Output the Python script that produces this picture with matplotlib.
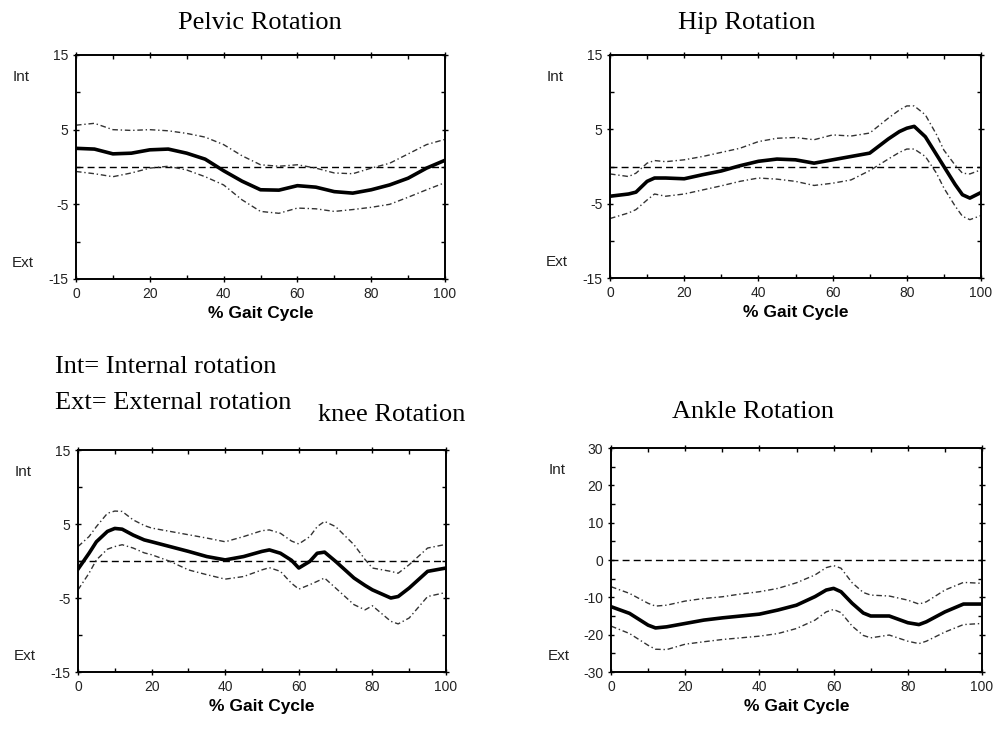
import matplotlib
matplotlib.use("Agg")
import matplotlib.pyplot as plt
from matplotlib.ticker import MultipleLocator

plt.rcParams["axes.unicode_minus"] = False

# ---- data (degrees vs % gait cycle) ----
pelvic_x = [0, 5, 10, 15, 20, 25, 30, 35, 40, 45, 50, 55, 60, 65, 70, 75, 80, 85, 90, 95, 100]
pelvic_mean = [2.5, 2.4, 1.76, 1.85, 2.3, 2.4, 1.85, 1.05, -0.5, -1.9, -3.05, -3.1, -2.5, -2.7,
               -3.3, -3.5, -3.05, -2.4, -1.5, -0.15, 0.9]
pelvic_hi = [5.6, 5.85, 5.0, 4.9, 5.0, 4.85, 4.5, 4.0, 3.0, 1.5, 0.3, 0.1, 0.3, -0.15,
             -0.8, -0.9, -0.15, 0.5, 1.75, 3.0, 3.7]
pelvic_lo = [-0.6, -0.9, -1.3, -0.8, -0.15, 0.1, -0.4, -1.3, -2.4, -4.4, -5.95, -6.2, -5.5, -5.6,
             -5.95, -5.7, -5.4, -5.0, -4.05, -3.05, -2.1]

hip_x = [0, 5, 7, 10, 12, 15, 20, 25, 30, 35, 40, 45, 50, 55, 60, 65, 70, 75, 78, 80, 82, 85,
         88, 90, 93, 95, 97, 100]
hip_mean = [-4.0, -3.7, -3.45, -2.0, -1.55, -1.55, -1.65, -1.1, -0.6, 0.1, 0.7, 1.0, 0.9, 0.45,
            0.9, 1.35, 1.8, 3.7, 4.7, 5.15, 5.4, 4.0, 1.6, 0.0, -2.4, -3.8, -4.25, -3.5]
hip_hi = [-1.0, -1.35, -0.9, 0.45, 0.8, 0.65, 0.9, 1.35, 1.9, 2.45, 3.35, 3.8, 3.9, 3.6,
          4.25, 4.1, 4.5, 6.5, 7.6, 8.15, 8.15, 6.95, 4.3, 2.2, 0.2, -0.9, -1.0, -0.45]
hip_lo = [-7.0, -6.25, -5.8, -4.5, -3.7, -4.0, -3.7, -3.15, -2.6, -2.0, -1.55, -1.7, -2.0, -2.55,
          -2.25, -1.8, -0.55, 1.0, 1.9, 2.35, 2.35, 1.35, -0.9, -2.9, -5.3, -6.7, -7.15, -6.6]

knee_x = [0, 3, 5, 8, 10, 12, 15, 18, 20, 25, 30, 35, 40, 45, 50, 52, 55, 58, 60, 63, 65, 67,
          70, 75, 78, 80, 85, 87, 90, 95, 100]
knee_mean = [-1.1, 1.05, 2.6, 4.0, 4.4, 4.3, 3.5, 2.85, 2.6, 1.95, 1.3, 0.6, 0.15, 0.6, 1.3, 1.5,
             1.05, 0.1, -0.95, -0.05, 1.05, 1.2, -0.05, -2.3, -3.3, -3.9, -5.0, -4.8, -3.65, -1.4, -0.95]
knee_hi = [1.95, 3.3, 4.65, 6.45, 6.75, 6.7, 5.55, 4.8, 4.45, 4.0, 3.55, 3.1, 2.6, 3.3, 4.1, 4.2,
           3.75, 2.7, 2.3, 3.3, 4.65, 5.35, 4.65, 2.2, 0.2, -0.95, -1.4, -1.65, -0.5, 1.75, 2.25]
knee_lo = [-3.9, -1.65, 0.15, 1.6, 1.95, 2.2, 1.75, 1.1, 0.85, -0.05, -1.2, -1.85, -2.45, -2.1,
           -1.2, -0.9, -1.4, -3.0, -3.8, -3.2, -2.75, -2.3, -3.65, -5.9, -6.6, -6.05, -8.15, -8.5,
           -7.7, -4.8, -4.25]

ankle_x = [0, 5, 10, 12, 15, 20, 25, 30, 35, 40, 45, 50, 55, 58, 60, 62, 65, 68, 70, 75, 80, 83,
           85, 90, 95, 100]
ankle_mean = [-12.5, -14.3, -17.45, -18.2, -17.9, -17.0, -16.1, -15.5, -15.0, -14.5, -13.4, -12.1,
              -9.8, -8.05, -7.6, -8.5, -11.6, -14.2, -15.0, -15.0, -16.8, -17.3, -16.55, -13.9,
              -11.8, -11.8]
ankle_hi = [-7.15, -8.95, -11.6, -12.35, -12.1, -11.0, -10.3, -9.85, -9.1, -8.5, -7.6, -6.1,
            -4.0, -2.05, -1.5, -2.2, -6.1, -8.7, -9.4, -9.65, -10.75, -11.8, -11.2, -8.05, -6.0, -6.25]
ankle_lo = [-17.7, -19.7, -22.85, -23.9, -24.0, -22.55, -21.9, -21.3, -20.85, -20.4, -19.7, -18.35,
            -16.1, -13.9, -13.25, -14.1, -17.7, -20.2, -20.85, -20.1, -21.75, -22.4, -21.75, -19.3,
            -17.3, -17.0]

titles = ["Pelvic Rotation", "Hip Rotation", "knee Rotation", "Ankle Rotation"]
ylims = [(-15, 15), (-15, 15), (-15, 15), (-30, 30)]

panels = [
    (pelvic_x, pelvic_mean, pelvic_hi, pelvic_lo),
    (hip_x, hip_mean, hip_hi, hip_lo),
    (knee_x, knee_mean, knee_hi, knee_lo),
    (ankle_x, ankle_mean, ankle_hi, ankle_lo),
]

W, H = 1001, 731
fig = plt.figure(figsize=(W / 100, H / 100), dpi=100)

# axes boxes in pixels: left, top, right, bottom
boxes = [(76, 55, 445, 279), (610, 55, 981, 278), (78, 450, 446, 672), (611, 448, 982, 672)]
title_pos = [(260, 23), (747, 23), (392, 415), (753, 412)]
intext_x = [13, 547, 15, 549]

serif = "Liberation Serif"
sans = "Liberation Sans"

for i, (xs, mean, hi, lo) in enumerate(panels):
    l, t, r, b = boxes[i]
    ax = fig.add_axes([l / W, 1 - b / H, (r - l) / W, (b - t) / H])
    ax.axhline(0, color="black", lw=1.0, ls=(0, (5, 3)), zorder=1)
    for band in (hi, lo):
        ax.plot(xs, band, color="#333333", lw=1.0, ls=(0, (4, 2, 1, 2)), zorder=2)
    ax.plot(xs, mean, color="black", lw=2.6, zorder=3, solid_joinstyle="round")

    lo_y, hi_y = ylims[i]
    ax.set_xlim(0, 100)
    ax.set_ylim(lo_y, hi_y)
    ax.xaxis.set_major_locator(MultipleLocator(20))
    ax.xaxis.set_minor_locator(MultipleLocator(10))
    if i < 3:
        ax.set_yticks([-15, -5, 5, 15])
        ax.yaxis.set_minor_locator(MultipleLocator(5))
    else:
        ax.yaxis.set_major_locator(MultipleLocator(10))
        ax.yaxis.set_minor_locator(MultipleLocator(5))
    ax.tick_params(which="major", direction="inout", length=5, width=1, labelsize=10,
                   labelcolor="#222222", top=True, right=True, pad=3)
    ax.tick_params(which="minor", direction="in", length=3, width=1, top=True, right=True)
    for lab in ax.get_xticklabels() + ax.get_yticklabels():
        lab.set_fontfamily(sans)
    for s in ax.spines.values():
        s.set_linewidth(1.4)
    ax.set_xlabel("% Gait Cycle", fontsize=12.5, fontweight="bold", family=sans, labelpad=4)

    tx, ty = title_pos[i]
    fig.text(tx / W, 1 - ty / H, titles[i], family=serif, fontsize=19, ha="center", va="center")
    fig.text(intext_x[i] / W, 1 - (t + 22) / H, "Int", family=sans, fontsize=11,
             color="#222222", va="center")
    fig.text((intext_x[i] - 1) / W, 1 - (b - 16) / H, "Ext", family=sans, fontsize=11,
             color="#222222", va="center")

fig.text(55 / W, 1 - 367 / H, "Int= Internal rotation", family=serif, fontsize=19, va="center")
fig.text(55 / W, 1 - 403 / H, "Ext= External rotation", family=serif, fontsize=19, va="center")

fig.savefig("out.png", dpi=100)
